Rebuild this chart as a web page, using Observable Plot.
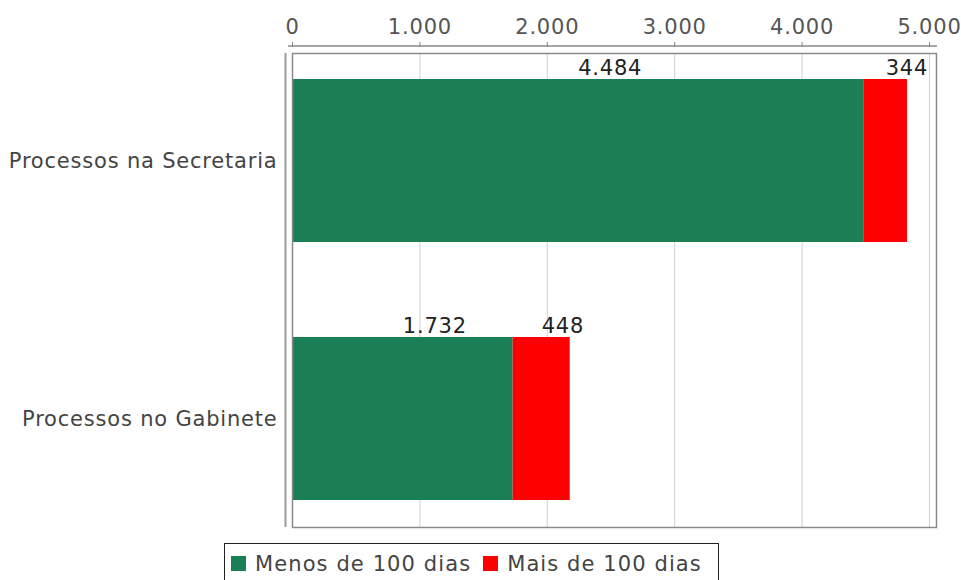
<!DOCTYPE html>
<html>
<head>
<meta charset="utf-8">
<script src="https://cdn.jsdelivr.net/npm/d3@7"></script>
<script src="https://cdn.jsdelivr.net/npm/@observablehq/plot@0.6"></script>
<style>
  body { margin: 0; background: #fff; font-family: "DejaVu Sans", sans-serif; }
  #chart svg { display: block; }
  #chart svg text { letter-spacing: 0.8px; }
  .legend { position: absolute; left: 224px; top: 543px; height: 40px; box-sizing: border-box; border: 1.5px solid #222; border-bottom: none;
            padding: 0 16px 0 6px; font-size: 21px; letter-spacing: 1.1px; color: #444; white-space: nowrap; display: flex; align-items: center; gap: 9px; }
  .sw { display: inline-block; width: 15px; height: 15px; }
</style>
</head>
<body>
<div id="chart"></div>
<div class="legend">
  <span class="sw" style="background:#1a7f55"></span><span>Menos de 100 dias</span>
  <span class="sw" style="background:#ff0000;margin-left:3px"></span><span>Mais de 100 dias</span>
</div>
<script>
const categories = ["Processos na Secretaria", "Processos no Gabinete"];
const series = ["Menos de 100 dias", "Mais de 100 dias"];
const menos = [4484, 1732];
const mais = [344, 448];
const xTicks = [0, 1000, 2000, 3000, 4000, 5000];
const colors = ["#1a7f55", "#ff0000"];

const fmt = d3.formatLocale({decimal: ",", thousands: ".", grouping: [3], currency: ["R$", ""]}).format(",d");

const data = [];
categories.forEach((c, i) => {
  data.push({cat: c, serie: series[0], value: menos[i]});
  data.push({cat: c, serie: series[1], value: mais[i]});
});

const topAxisLine = (index, scales, values, dims) => {
  const g = d3.create("svg:g");
  g.append("line")
    .attr("x1", scales.x(0) - 4).attr("x2", dims.width - dims.marginRight + 1)
    .attr("y1", dims.marginTop - 7).attr("y2", dims.marginTop - 7)
    .attr("stroke", "#888").attr("stroke-width", 1.5);
  return g.node();
};

const chart = Plot.plot({
  width: 961,
  height: 540,
  marginLeft: 292,
  marginRight: 25,
  marginTop: 53,
  marginBottom: 13,
  style: {fontFamily: "DejaVu Sans, sans-serif", fontSize: "21px", background: "#fff"},
  x: {domain: [0, 5055], ticks: xTicks, tickFormat: fmt},
  y: {domain: categories, paddingInner: 0.367, paddingOuter: 0.1, label: null},
  color: {domain: series, range: colors},
  marks: [
    Plot.gridX(xTicks, {stroke: "#d0d0d0", strokeOpacity: 1}),
    Plot.barX(data, Plot.stackX({x: "value", y: "cat", fill: "serie", order: series})),
    Plot.text(data, Plot.stackX({
      x: "value", y: "cat", order: series, z: "serie",
      text: d => fmt(d.value),
      textAnchor: "start", lineAnchor: "bottom", dy: -86, fill: "#222", fontSize: 21
    })),
    Plot.frame({stroke: "#8a8a8a", strokeWidth: 1.5}),
    Plot.ruleX([0], {dx: -7, stroke: "#999", strokeWidth: 2}),
    topAxisLine,
    Plot.axisX({anchor: "top", ticks: xTicks, tickFormat: fmt, tickSize: 5, dy: -7, tickPadding: 8,
                stroke: "#888", fill: "#555", fontSize: 21, label: null}),
    Plot.axisY({anchor: "left", tickSize: 0, tickPadding: 15, fill: "#444", fontSize: 21, label: null})
  ]
});

document.getElementById("chart").append(chart);
</script>
</body>
</html>
